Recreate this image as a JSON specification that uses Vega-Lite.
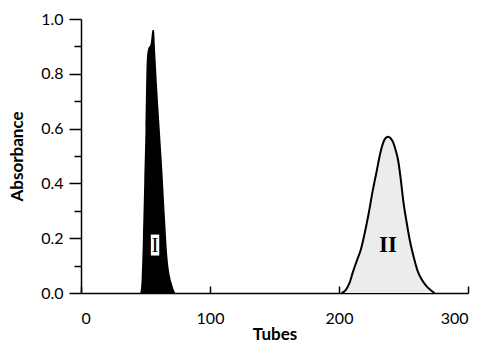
{
  "$schema": "https://vega.github.io/schema/vega-lite/v6.json",
  "width": 387,
  "height": 274,
  "autosize": "none",
  "padding": {"left": 81, "top": 19, "right": 20, "bottom": 49},
  "background": "white",
  "config": {
    "view": {"stroke": null},
    "axis": {
      "grid": false,
      "domainColor": "black",
      "tickColor": "black",
      "labelColor": "black",
      "titleColor": "black",
      "labelFont": "Lato",
      "titleFont": "Lato",
      "labelFontSize": 16,
      "titleFontSize": 17,
      "titleFontWeight": "bold",
      "domainWidth": 1.5,
      "tickWidth": 1.5
    }
  },
  "datasets": {
    "peakI": [
      {"tube": 46, "absorbance": 0},
      {"tube": 47, "absorbance": 0.05},
      {"tube": 48, "absorbance": 0.2},
      {"tube": 49, "absorbance": 0.4},
      {"tube": 50, "absorbance": 0.6},
      {"tube": 51, "absorbance": 0.85},
      {"tube": 52, "absorbance": 0.89},
      {"tube": 54, "absorbance": 0.91},
      {"tube": 55.5, "absorbance": 0.96},
      {"tube": 56.5, "absorbance": 0.96},
      {"tube": 57.5, "absorbance": 0.88},
      {"tube": 59, "absorbance": 0.75},
      {"tube": 61, "absorbance": 0.6},
      {"tube": 63, "absorbance": 0.45},
      {"tube": 65, "absorbance": 0.28},
      {"tube": 67, "absorbance": 0.13},
      {"tube": 69, "absorbance": 0.06},
      {"tube": 71, "absorbance": 0.025},
      {"tube": 73, "absorbance": 0}
    ],
    "peakII": [
      {"tube": 202, "absorbance": 0},
      {"tube": 205, "absorbance": 0.01},
      {"tube": 208, "absorbance": 0.035},
      {"tube": 211, "absorbance": 0.08},
      {"tube": 214, "absorbance": 0.12},
      {"tube": 217, "absorbance": 0.16},
      {"tube": 220, "absorbance": 0.22},
      {"tube": 223, "absorbance": 0.29},
      {"tube": 226, "absorbance": 0.37},
      {"tube": 229, "absorbance": 0.44},
      {"tube": 232, "absorbance": 0.51},
      {"tube": 234, "absorbance": 0.545},
      {"tube": 236, "absorbance": 0.565},
      {"tube": 238, "absorbance": 0.57},
      {"tube": 240, "absorbance": 0.565},
      {"tube": 242, "absorbance": 0.55},
      {"tube": 244, "absorbance": 0.52},
      {"tube": 246, "absorbance": 0.48},
      {"tube": 248, "absorbance": 0.41},
      {"tube": 250, "absorbance": 0.33},
      {"tube": 252, "absorbance": 0.27},
      {"tube": 255, "absorbance": 0.19},
      {"tube": 258, "absorbance": 0.13},
      {"tube": 261, "absorbance": 0.08},
      {"tube": 264, "absorbance": 0.05},
      {"tube": 267, "absorbance": 0.03},
      {"tube": 270, "absorbance": 0.015},
      {"tube": 274, "absorbance": 0}
    ],
    "labels": [
      {"tube": 57.4, "absorbance": 0.175, "label": "I", "peak": "I"},
      {"tube": 238, "absorbance": 0.18, "label": "II", "peak": "II"}
    ]
  },
  "encoding": {
    "x": {
      "field": "tube",
      "type": "quantitative",
      "scale": {"domain": [0, 300], "nice": false},
      "axis": {
        "title": "Tubes",
        "values": [0, 100, 200, 300],
        "tickSize": -7,
        "labelPadding": 24,
        "titlePadding": 0
      }
    },
    "y": {
      "field": "absorbance",
      "type": "quantitative",
      "scale": {"domain": [0, 1], "nice": false},
      "axis": {
        "title": "Absorbance",
        "values": [0, 0.1, 0.2, 0.3, 0.4, 0.5, 0.6, 0.7, 0.8, 0.9, 1.0],
        "labelExpr": "round(datum.value*10) % 2 === 0 ? format(datum.value, '.1f') : ''",
        "tickSize": {"condition": {"test": "round(datum.value*10) % 2 === 0", "value": 12}, "value": 7},
        "labelPadding": 6,
        "titlePadding": 14
      }
    }
  },
  "layer": [
    {
      "data": {"name": "peakI"},
      "mark": {"type": "area", "color": "black", "interpolate": "monotone"}
    },
    {
      "data": {"name": "peakII"},
      "mark": {"type": "area", "color": "#ececec", "interpolate": "monotone"}
    },
    {
      "data": {"name": "peakII"},
      "mark": {"type": "line", "color": "black", "strokeWidth": 2, "interpolate": "monotone"}
    },
    {
      "data": {"name": "labels"},
      "transform": [{"filter": "datum.peak === 'I'"}],
      "mark": {"type": "point", "shape": "M-0.4,-1H0.4V1H-0.4Z", "size": 441, "filled": true, "color": "white", "opacity": 1}
    },
    {
      "data": {"name": "labels"},
      "transform": [{"filter": "datum.peak === 'I'"}],
      "mark": {"type": "text", "font": "Liberation Serif", "fontWeight": "normal", "fontSize": 21, "baseline": "middle", "align": "center", "color": "black", "dy": 1},
      "encoding": {"text": {"field": "label"}}
    },
    {
      "data": {"name": "labels"},
      "transform": [{"filter": "datum.peak === 'II'"}],
      "mark": {"type": "text", "font": "Liberation Serif", "fontWeight": "bold", "fontSize": 23, "baseline": "middle", "align": "center", "color": "black", "dy": 1},
      "encoding": {"text": {"field": "label"}}
    }
  ]
}
